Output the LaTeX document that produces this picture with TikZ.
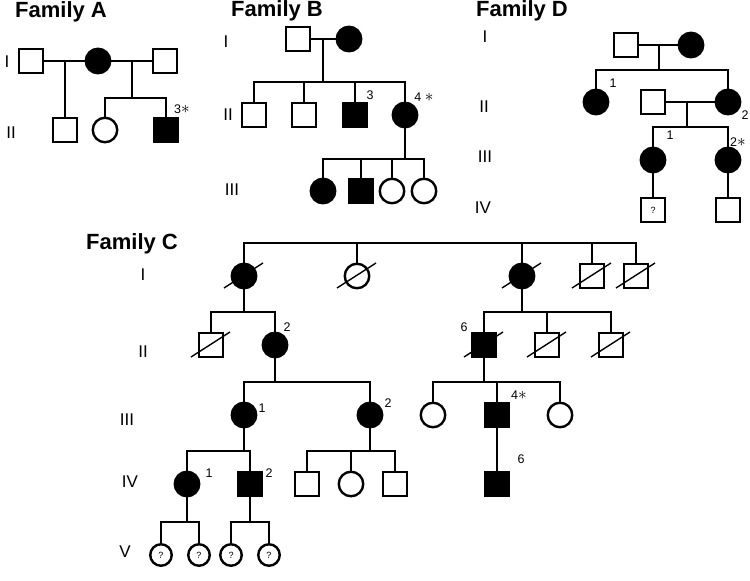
\documentclass[tikz,border=0pt]{standalone}
\usepackage{fontspec}
\setmainfont{Liberation Sans}

\tikzset{
  person/.style={draw, line width=2.4pt, minimum size=24.5pt, inner sep=0pt},
  male/.style={person, rectangle},
  female/.style={person, circle},
  unknown/.style={person, circle, minimum size=21.5pt, font=\fontsize{9}{9}\selectfont},
  aff/.style={fill=black},
  line/.style={line width=1.4pt},
  gen/.style={font=\fontsize{17}{17}\selectfont},
  num/.style={font=\fontsize{12.5}{12.5}\selectfont, inner sep=0pt},
  famtitle/.style={font=\fontsize{22}{22}\selectfont\bfseries},
}
\newcommand{\deceased}[1]{\draw[line] ([shift={(-20,12)}]#1.center) -- ([shift={(19,-13)}]#1.center);}
\newcommand{\proband}{{\fontsize{17}{17}\selectfont$\ast$}}

\begin{document}
\begin{tikzpicture}[x=1pt, y=-1pt]
    \useasboundingbox (0,0) rectangle (750,581);

    % Family A
    \node (titleA) [famtitle] at (61,12) {Family A};
    \node (genAI) [gen] at (7,62) {I};
    \node (genAII) [gen] at (11,133) {II};

    \node (A1) [male] at (31,61) {};
    \node (A2) [female, aff] at (98,61) {};
    \node (A3) [male] at (165,61) {};
    \node (A4) [male] at (65,130) {};
    \node (A5) [female] at (105,130) {};
    \node (A6) [male, aff] at (166,130) {};
    \node (A6n) [num] at (182,109) {3\proband};

    \coordinate (mA1) at (65,61);
    \coordinate (mA2) at (132,61);
    \coordinate (sA2) at (132,98);
    \draw [line] (A1) -- (A2);
    \draw [line] (A2) -- (A3);
    \draw [line] (mA1) -- (A4);
    \draw [line] (mA2) -- (sA2);
    \draw [line] (A5.north) |- (sA2) -| (A6.north);

    % Family B
    \node (titleB) [famtitle] at (277,11) {Family B};
    \node (genBI) [gen] at (226,42) {I};
    \node (genBII) [gen] at (228,115) {II};
    \node (genBIII) [gen] at (232,190) {III};

    \node (B1) [male] at (298,39) {};
    \node (B2) [female, aff] at (349,39) {};
    \node (B3) [male] at (254,115) {};
    \node (B4) [male] at (304,115) {};
    \node (B5) [male, aff] at (355,115) {};
    \node (B6) [female, aff] at (405,115) {};
    \node (B7) [female, aff] at (323,191) {};
    \node (B8) [male, aff] at (361,191) {};
    \node (B9) [female] at (392,191) {};
    \node (B10) [female] at (424,191) {};
    \node (B5n) [num] at (370,95) {3};
    \node (B6n) [num] at (424,97) {4 \proband};

    \coordinate (mB) at (323,39);
    \coordinate (sB) at (323,82);
    \coordinate (sB6) at (405,159);
    \draw [line] (B1) -- (B2);
    \draw [line] (mB) -- (sB);
    \draw [line] (B3.north) |- (sB) -| (B6.north);
    \draw [line] (B4.north) -- (B4.north |- sB);
    \draw [line] (B5.north) -- (B5.north |- sB);
    \draw [line] (B6) -- (sB6);
    \draw [line] (B7.north) |- (sB6) -| (B10.north);
    \draw [line] (B8.north) -- (B8.north |- sB6);
    \draw [line] (B9.north) -- (B9.north |- sB6);

    % Family D
    \node (titleD) [famtitle] at (522,11) {Family D};
    \node (genDI) [gen] at (485,37) {I};
    \node (genDII) [gen] at (484,107) {II};
    \node (genDIII) [gen] at (485,157) {III};
    \node (genDIV) [gen] at (483,208) {IV};

    \node (D1) [male] at (626,45) {};
    \node (D2) [female, aff] at (691,45) {};
    \node (D3) [female, aff] at (596,102) {};
    \node (D4) [male] at (653,102) {};
    \node (D5) [female, aff] at (728,102) {};
    \node (D6) [female, aff] at (653,160) {};
    \node (D7) [female, aff] at (728,160) {};
    \node (D8) [male, font=\fontsize{9}{9}\selectfont] at (653,210) {?};
    \node (D9) [male] at (728,210) {};
    \node (D3n) [num] at (613,83) {1};
    \node (D5n) [num] at (745,115) {2};
    \node (D6n) [num] at (670,135) {1};
    \node (D7n) [num] at (738,142) {2\proband};

    \coordinate (mD) at (659,45);
    \coordinate (sD) at (659,70);
    \coordinate (mD2) at (687,102);
    \coordinate (sD2) at (687,127);
    \draw [line] (D1) -- (D2);
    \draw [line] (mD) -- (sD);
    \draw [line] (D3.north) |- (sD) -| (D5.north);
    \draw [line] (D4) -- (D5);
    \draw [line] (mD2) -- (sD2);
    \draw [line] (D6.north) |- (sD2) -| (D7.north);
    \draw [line] (D6) -- (D8);
    \draw [line] (D7) -- (D9);

    % Family C
    \node (titleC) [famtitle] at (132,244) {Family C};
    \node (genCI) [gen] at (143,275) {I};
    \node (genCII) [gen] at (143,352) {II};
    \node (genCIII) [gen] at (127,420) {III};
    \node (genCIV) [gen] at (130,482) {IV};
    \node (genCV) [gen] at (125,552) {V};

    \node (C1) [female, aff] at (244,276) {};
    \node (C2) [female] at (357,276) {};
    \node (C3) [female, aff] at (522,276) {};
    \node (C4) [male] at (592,276) {};
    \node (C5) [male] at (636,276) {};
    \node (C6) [male] at (211,345) {};
    \node (C7) [female, aff] at (275,345) {};
    \node (C8) [male, aff] at (484,345) {};
    \node (C9) [male] at (547,345) {};
    \node (C10) [male] at (611,345) {};
    \node (C11) [female, aff] at (244,415) {};
    \node (C12) [female, aff] at (370,415) {};
    \node (C13) [female] at (433,415) {};
    \node (C14) [male, aff] at (497,415) {};
    \node (C15) [female] at (560,415) {};
    \node (C16) [male, aff] at (497,484) {};
    \node (C17) [female, aff] at (187,484) {};
    \node (C18) [male, aff] at (250,484) {};
    \node (C19) [male] at (307,484) {};
    \node (C20) [female] at (351,484) {};
    \node (C21) [male] at (395,484) {};
    \node (C22) [unknown] at (161,555) {?};
    \node (C23) [unknown] at (199,555) {?};
    \node (C24) [unknown] at (231,555) {?};
    \node (C25) [unknown] at (269,555) {?};

    \node (C7n) [num] at (287,327) {2};
    \node (C8n) [num] at (464,327) {6};
    \node (C11n) [num] at (262,408) {1};
    \node (C12n) [num] at (388,403) {2};
    \node (C14n) [num] at (519,395) {4\proband};
    \node (C16n) [num] at (521,459) {6};
    \node (C17n) [num] at (209,473) {1};
    \node (C18n) [num] at (269,473) {2};

    \deceased{C1}
    \deceased{C2}
    \deceased{C3}
    \deceased{C4}
    \deceased{C5}
    \deceased{C6}
    \deceased{C8}
    \deceased{C9}
    \deceased{C10}

    \coordinate (sC) at (440,243);
    \coordinate (sC1) at (244,312);
    \coordinate (sC3) at (522,312);
    \coordinate (sC7) at (275,382);
    \coordinate (sC8) at (484,382);
    \coordinate (sC11) at (244,451);
    \coordinate (sC12) at (370,451);
    \coordinate (sC17) at (187,522);
    \coordinate (sC18) at (250,522);

    \draw [line] (C1.north) |- (sC) -| (C5.north);
    \draw [line] (C2.north) -- (C2.north |- sC);
    \draw [line] (C3.north) -- (C3.north |- sC);
    \draw [line] (C4.north) -- (C4.north |- sC);

    \draw [line] (C1) -- (sC1);
    \draw [line] (C6.north) |- (sC1) -| (C7.north);
    \draw [line] (C3) -- (sC3);
    \draw [line] (C8.north) |- (sC3) -| (C10.north);
    \draw [line] (C9.north) -- (C9.north |- sC3);

    \draw [line] (C7) -- (sC7);
    \draw [line] (C11.north) |- (sC7) -| (C12.north);
    \draw [line] (C8) -- (sC8);
    \draw [line] (C13.north) |- (sC8) -| (C15.north);
    \draw [line] (C14.north) -- (C14.north |- sC8);
    \draw [line] (C14) -- (C16);

    \draw [line] (C11) -- (sC11);
    \draw [line] (C17.north) |- (sC11) -| (C18.north);
    \draw [line] (C12) -- (sC12);
    \draw [line] (C19.north) |- (sC12) -| (C21.north);
    \draw [line] (C20.north) -- (C20.north |- sC12);

    \draw [line] (C17) -- (sC17);
    \draw [line] (C22.north) |- (sC17) -| (C23.north);
    \draw [line] (C18) -- (sC18);
    \draw [line] (C24.north) |- (sC18) -| (C25.north);

\end{tikzpicture}
\end{document}
